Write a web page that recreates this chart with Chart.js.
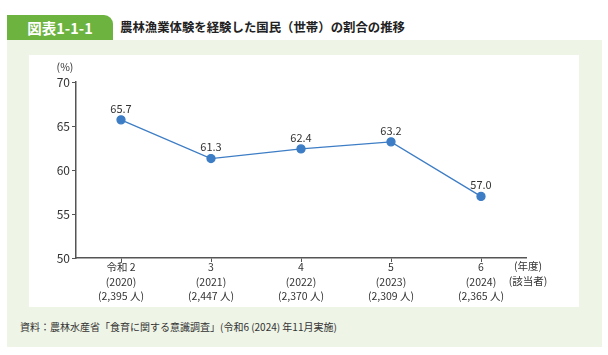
<!DOCTYPE html>
<html><head><meta charset="utf-8">
<script src="https://cdn.jsdelivr.net/npm/chart.js@4/dist/chart.umd.min.js"></script>
<style>
html,body{margin:0;padding:0;background:#fff;width:608px;height:355px;overflow:hidden;font-family:"Noto Sans CJK JP","Noto Sans",sans-serif;}
#tab{position:absolute;left:7px;top:15px;width:106px;height:25px;background:#6cb33f;border-top-right-radius:9px;color:#fff;font-weight:bold;font-size:14.5px;line-height:25px;text-align:center;}
#title{position:absolute;left:120px;top:15px;height:25px;line-height:25px;font-size:12.4px;font-weight:bold;color:#222;}
#bg{position:absolute;left:7px;top:40px;width:595px;height:307px;background:#eef4e6;}
#panel{position:absolute;left:29px;top:55px;width:550px;height:252px;background:#fff;}
#foot{position:absolute;left:20px;top:319px;font-size:10px;color:#333;line-height:16px;}
canvas{display:block;}
</style></head><body>
<div id="bg"></div>
<div id="tab">図表1-1-1</div>
<div id="title">農林漁業体験を経験した国民（世帯）の割合の推移</div>
<div id="panel"><canvas id="c" width="550" height="252"></canvas></div>
<div id="foot">資料：農林水産省「食育に関する意識調査」(令和6 (2024) 年11月実施)</div>
<script>
const categories = ['令和 2','3','4','5','6'];
const years = ['(2020)','(2021)','(2022)','(2023)','(2024)'];
const respondents = ['(2,395 人)','(2,447 人)','(2,370 人)','(2,309 人)','(2,365 人)'];
const rates = [65.7, 61.3, 62.4, 63.2, 57.0];
const yTicks = [50, 55, 60, 65, 70];

const labels = categories.map((c,i)=>[c, years[i], respondents[i]]);
const FONT = '"Noto Sans CJK JP","Noto Sans",sans-serif';

const extras = {
  id:'extras',
  afterDatasetsDraw(chart){
    const ctx = chart.ctx;
    const meta = chart.getDatasetMeta(0);
    ctx.save();
    ctx.fillStyle = '#333';
    ctx.font = '11px ' + FONT;
    ctx.textAlign = 'center';
    ctx.textBaseline = 'bottom';
    meta.data.forEach((pt,i)=>{
      ctx.fillText(rates[i].toFixed(1), pt.x, pt.y - 6);
    });
    const xs = chart.scales.x, ys = chart.scales.y;
    ctx.textBaseline = 'middle';
    ctx.font = '10.5px ' + FONT;
    ctx.fillText('(%)', xs.left - 11, ys.top - 15);
    ctx.fillText('(年度)', xs.right + 2, ys.bottom + 8);
    ctx.fillText('(該当者)', xs.right + 2, ys.bottom + 23);
    ctx.restore();
  }
};

new Chart(document.getElementById('c'), {
  type:'line',
  data:{ labels, datasets:[{
    data: rates,
    borderColor:'#3d7dc5',
    backgroundColor:'#3d7dc5',
    borderWidth:1.3,
    pointRadius:4,
    pointHoverRadius:4,
    tension:0
  }]},
  options:{
    responsive:false, animation:false,
    devicePixelRatio:1,
    layout:{padding:{left:0,right:53,top:27,bottom:0}},
    plugins:{legend:{display:false},tooltip:{enabled:false}},
    scales:{
      x:{
        offset:true,
        grid:{display:true,drawOnChartArea:false,drawTicks:true,tickLength:4,color:'#555'},
        border:{color:'#555',width:1.5},
        ticks:{color:'#333',font:{family:FONT,size:10.5,lineHeight:1.38},padding:-2,maxRotation:0,autoSkip:false},
        afterFit(s){ s.height = 49; }
      },
      y:{
        min:50,max:70,
        afterBuildTicks(s){ s.ticks = yTicks.map(v=>({value:v})); },
        grid:{display:true,drawOnChartArea:false,drawTicks:true,tickLength:4,color:'#555'},
        border:{color:'#555',width:1.5},
        ticks:{color:'#333',font:{family:FONT,size:12},padding:2},
        afterFit(s){ s.width = 47; }
      }
    }
  },
  plugins:[extras]
});
</script>
</body></html>
